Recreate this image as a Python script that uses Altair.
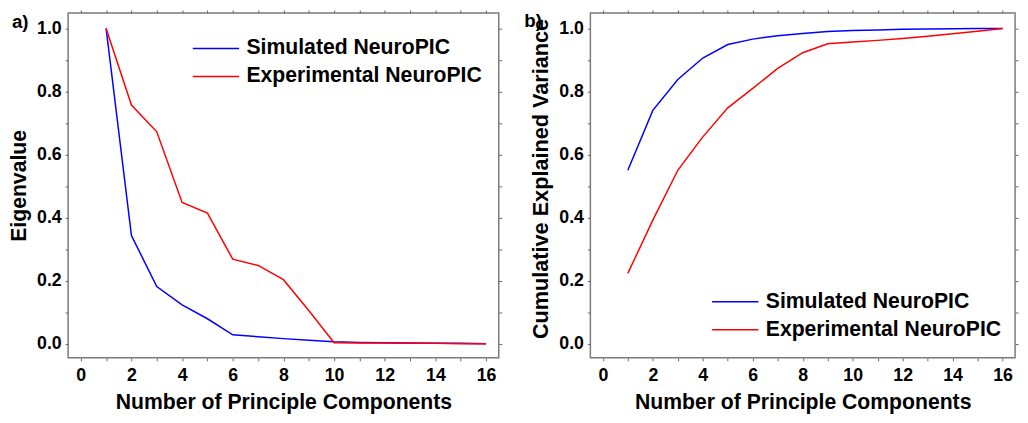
import altair as alt
import pandas as pd

components = list(range(1, 17))
series_names = ["Simulated NeuroPIC", "Experimental NeuroPIC"]
series_colors = ["#0000ff", "#ff0000"]

sim_eigen = [1.0, 0.343, 0.181, 0.123, 0.079, 0.028, 0.022, 0.016, 0.011, 0.006, 0.004, 0.003, 0.002, 0.001, 0.001, 0.0]
exp_eigen = [1.0, 0.757, 0.672, 0.448, 0.414, 0.268, 0.248, 0.203, 0.105, 0.003, 0.002, 0.002, 0.001, 0.001, 0.0, 0.0]

sim_cum = [0.55, 0.74, 0.838, 0.906, 0.949, 0.966, 0.977, 0.984, 0.990, 0.993, 0.995, 0.997, 0.998, 0.999, 0.9995, 1.0]
exp_cum = [0.223, 0.392, 0.55, 0.656, 0.748, 0.81, 0.873, 0.923, 0.951, 0.957, 0.962, 0.968, 0.975, 0.983, 0.991, 1.0]

x_ticks = list(range(0, 17))
y_ticks = [round(i * 0.1, 1) for i in range(0, 11)]

FONT = "Liberation Sans"


def make_df(a, b):
    rows = []
    for name, vals in zip(series_names, [a, b]):
        for c, v in zip(components, vals):
            rows.append({"pc": c, "value": v, "series": name})
    return pd.DataFrame(rows)


x_label_expr = "datum.value % 2 == 0 ? datum.label : ''"
y_label_expr = "indexof(['0.0','0.2','0.4','0.6','0.8','1.0'], format(datum.value, '.1f')) >= 0 ? format(datum.value, '.1f') : ''"

PLOT_H = 350


def panel(df, ytitle, tag, width, legend_x, legend_y, tag_x, tag_y, ytitle_size, ytitle_y):
    xscale = alt.Scale(domain=[-0.5, 16.5], nice=False, zero=False)
    yscale = alt.Scale(domain=[-0.045, 1.049], nice=False, zero=False)
    yaxis_kw = dict(orient="left", values=y_ticks, labelExpr=y_label_expr,
                    title=ytitle, labelOverlap=False, labelFlush=False,
                    titlePadding=6, titleFontSize=ytitle_size, labelPadding=4)
    if ytitle_y is not None:
        yaxis_kw["titleY"] = ytitle_y
    lines = alt.Chart(df).mark_line(strokeWidth=1.5).encode(
        x=alt.X("pc:Q", scale=xscale,
                axis=alt.Axis(orient="bottom", values=x_ticks, labelExpr=x_label_expr,
                              title="Number of Principle Components", labelOverlap=False,
                              labelFlush=False, titlePadding=7, labelPadding=6)),
        y=alt.Y("value:Q", scale=yscale, axis=alt.Axis(**yaxis_kw)),
        color=alt.Color("series:N",
                        scale=alt.Scale(domain=series_names, range=series_colors),
                        sort=series_names,
                        legend=alt.Legend(orient="none", legendX=legend_x, legendY=legend_y,
                                          title=None, symbolType="M-2.35,0H2.35", symbolSize=400,
                                          symbolStrokeWidth=1.5, labelFontSize=21.5,
                                          labelFont=FONT, labelFontWeight="bold",
                                          labelColor="black", labelLimit=0, padding=0,
                                          rowPadding=6.5, labelOffset=20)),
    )
    frame = alt.Chart(df).mark_line(opacity=0).encode(
        x=alt.X("pc:Q", scale=xscale,
                axis=alt.Axis(orient="top", values=x_ticks, labels=False, title=None)),
        y=alt.Y("value:Q", scale=yscale,
                axis=alt.Axis(orient="right", values=y_ticks, labels=False, title=None)),
    )
    tag_df = pd.DataFrame({"t": [tag]})
    label = alt.Chart(tag_df).mark_text(
        font=FONT, fontWeight="bold", fontSize=19, align="left", baseline="top", color="black"
    ).encode(x=alt.value(tag_x), y=alt.value(tag_y), text="t:N")
    return alt.layer(lines, frame, label).resolve_axis(x="independent", y="independent").properties(
        width=width, height=PLOT_H
    )


left = panel(make_df(sim_eigen, exp_eigen), "Eigenvalue", "a)", 437, 139, 25, -57, 0, 21.5, None)
right = panel(make_df(sim_cum, exp_cum), "Cumulative Explained Variance", "b)", 431, 136, 282, -67, -1, 22, 168)

chart = alt.hconcat(left, right, spacing=20).resolve_scale(color="independent").resolve_legend(
    color="independent"
).properties(padding={"left": 0, "top": -3, "right": 0, "bottom": 0}).configure_view(
    stroke="#7a7a7a", strokeWidth=1.5
).configure_axis(
    domain=False, grid=False, tickColor="#666666", tickSize=3, tickWidth=1,
    labelFont=FONT, labelFontSize=18, labelFontWeight="bold", labelColor="black",
    titleFont=FONT, titleFontSize=21.5, titleFontWeight="bold", titleColor="black"
)

chart.save("out.html", embed_options={"renderer": "svg", "actions": False})
